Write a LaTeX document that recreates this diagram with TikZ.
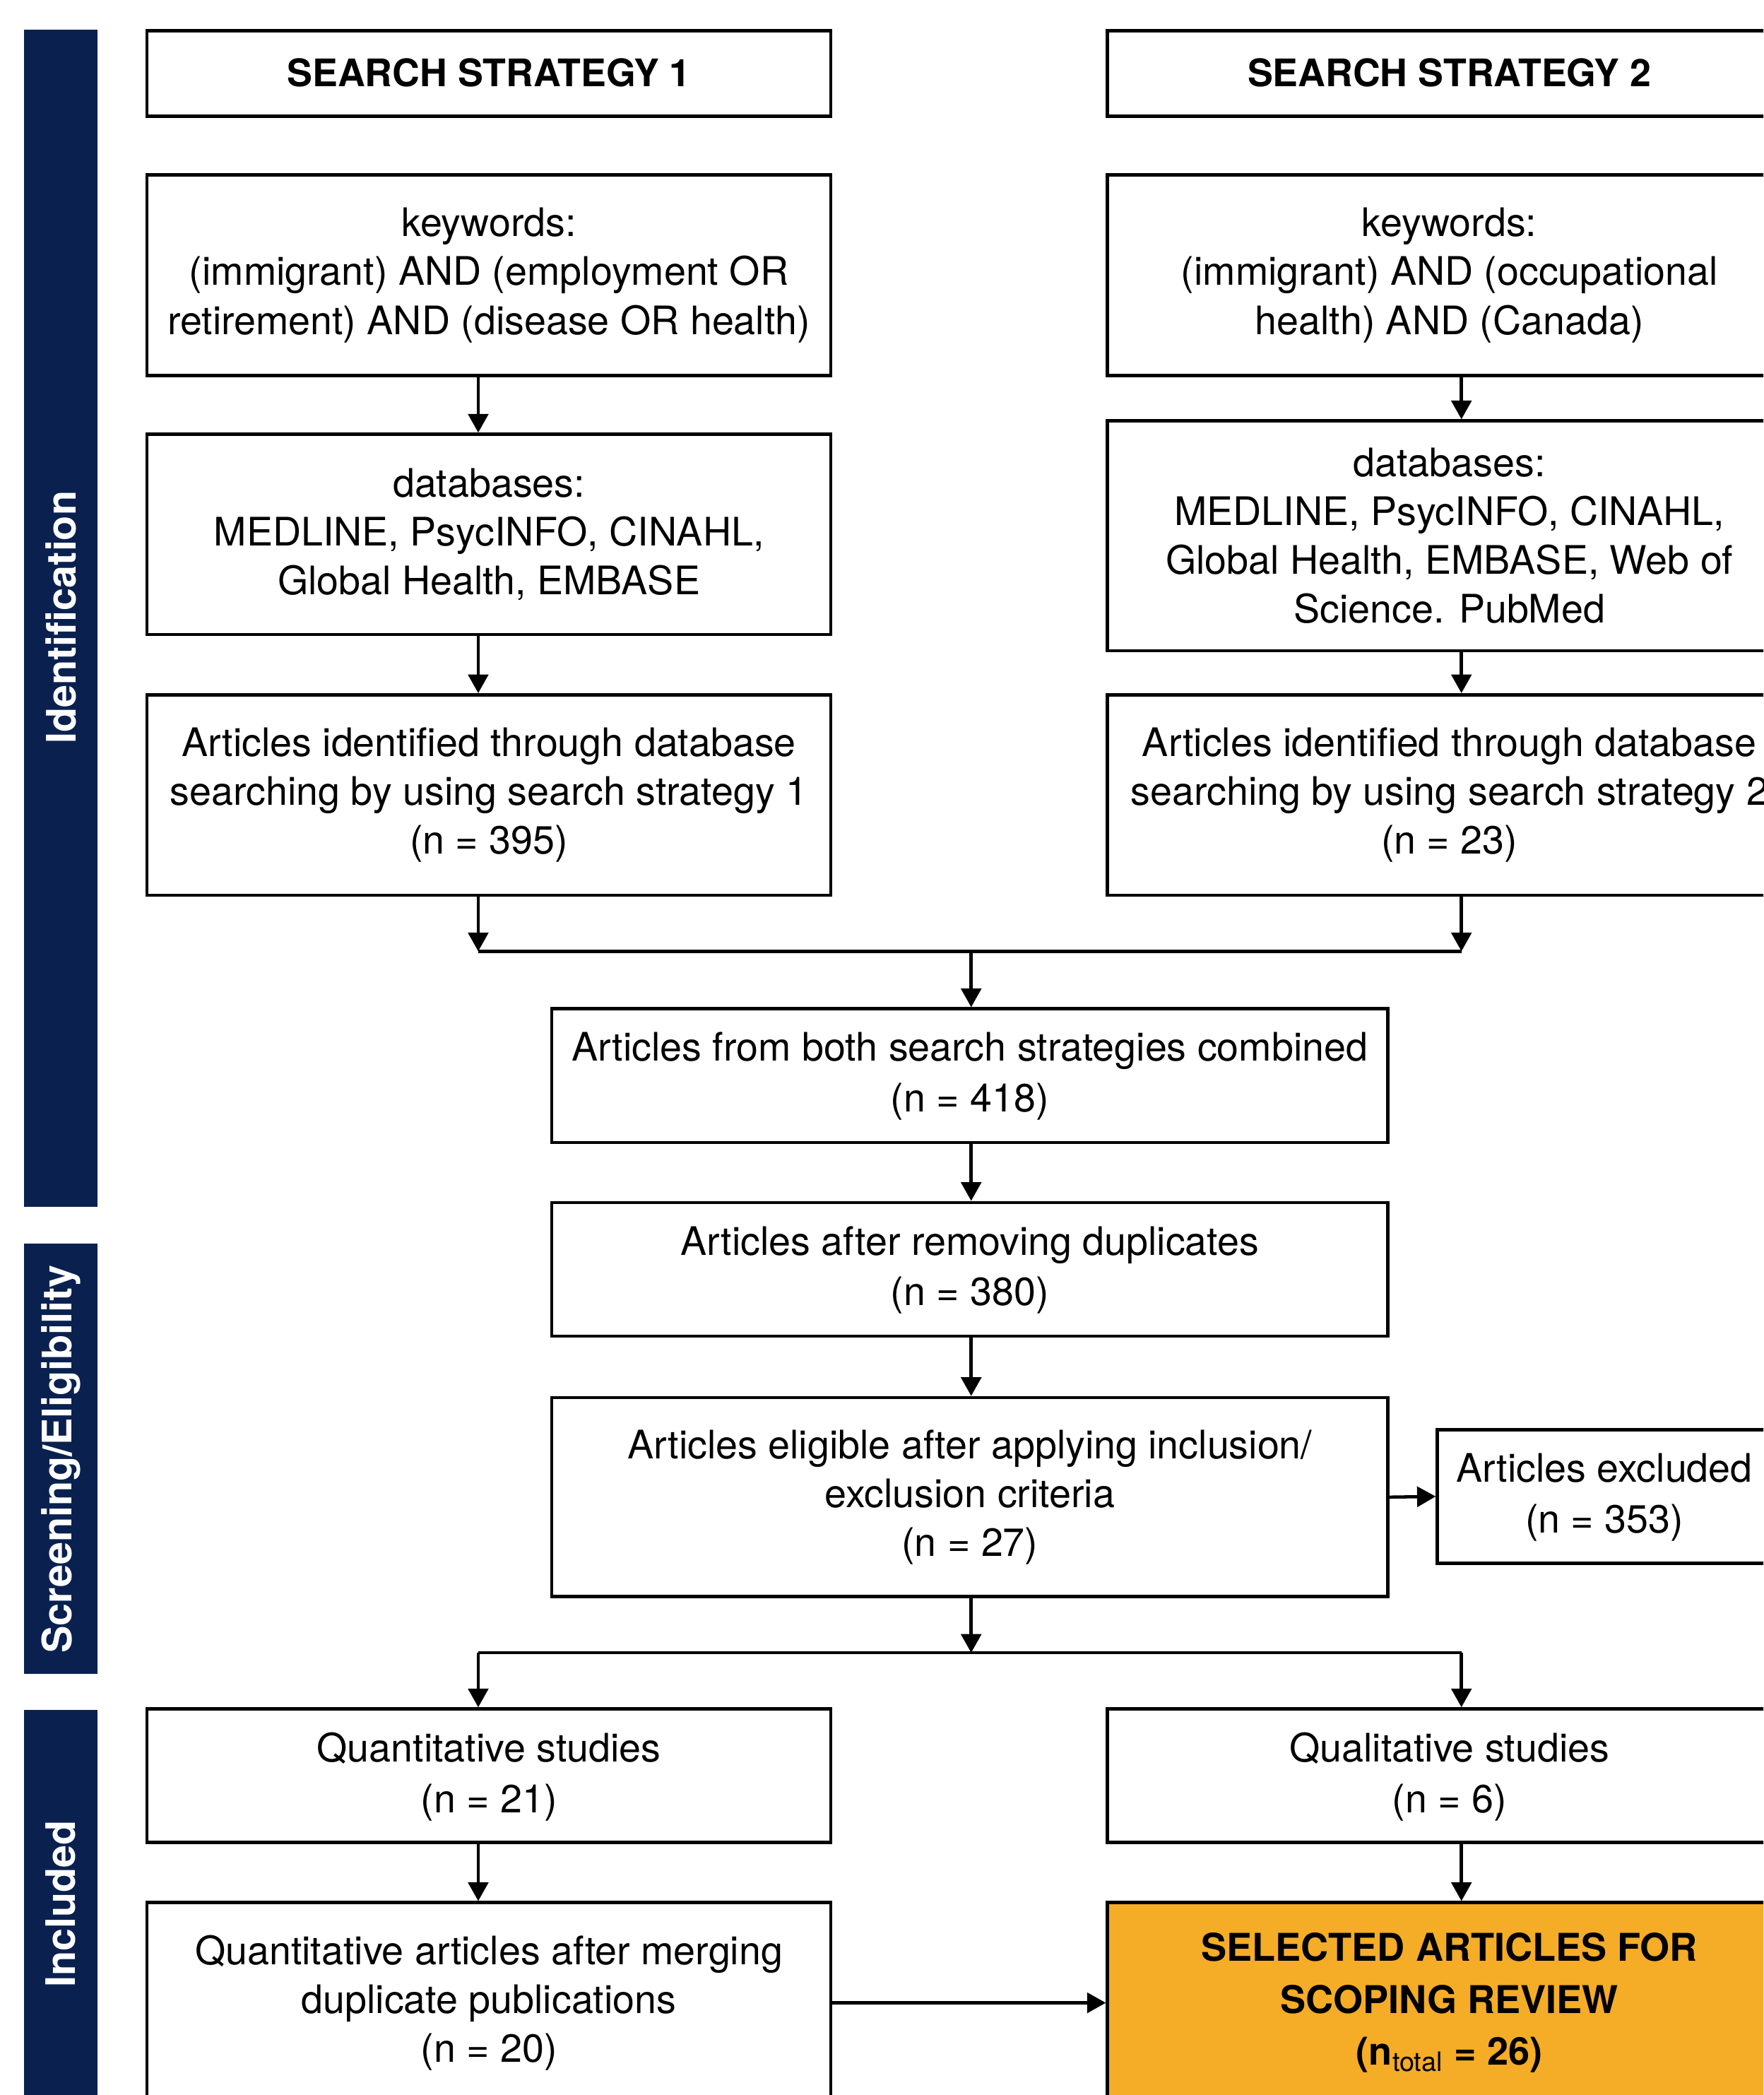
\documentclass[tikz,border=0pt]{standalone}
\usepackage{fontspec}
\setmainfont{TeX Gyre Heros}
\usetikzlibrary{arrows.meta}
\definecolor{navy}{RGB}{10,33,80}
\definecolor{amber}{RGB}{245,172,39}
\tikzstyle{box}=[draw, line width=1.2pt, rectangle, inner sep=0pt, align=center, fill=white, minimum width=256pt, font=\fontsize{14.7}{18.3}\selectfont]
\tikzstyle{pair}=[box, font=\fontsize{14.7}{19}\selectfont, text depth=2.5pt, minimum height=50pt]
\tikzstyle{head}=[box, minimum height=32pt, text depth=1pt, font=\fontsize{14.2}{18}\selectfont\bfseries]
\tikzstyle{mid}=[box, minimum width=313pt]
\tikzstyle{final}=[box, fill=amber, font=\fontsize{14.3}{19.5}\selectfont\bfseries]
\tikzstyle{phase}=[rotate=90, text=white, font=\fontsize{15.2}{18}\selectfont\bfseries]
\tikzstyle{arrow}=[line width=1.2pt, -{Triangle[length=7pt, width=7.5pt]}]
\tikzstyle{line}=[line width=1.2pt]

\begin{document}
\begin{tikzpicture}[x=0.5pt, y=-0.5pt]
    \useasboundingbox (0,0) rectangle (1320,1568);
    \clip (0,0) rectangle (1320,1568);
% Phase bars
    \fill[navy] (18,22) rectangle (73,903);
    \fill[navy] (18,931) rectangle (73,1253);
    \fill[navy] (18,1280) rectangle (73,1590);
    \node[phase] (phId) at (45.5,462) {Identification};
    \node[phase] (phScr) at (45.5,1092) {Screening/Eligibility};
    \node[phase] (phInc) at (45.5,1425) {Included};
% Columns and junctions
    \coordinate (colL) at (358,0);
    \coordinate (colR) at (1094,0);
    \coordinate (colC) at (727,0);
    \coordinate (joinA) at (727,712);
    \coordinate (joinB) at (727,1237);
% Search strategy 1
    \node[head] (ss1) at (366,55) {SEARCH STRATEGY 1};
    \node[box, minimum height=75pt] (kw1) at (366,206) {keywords:\\(immigrant) AND (employment OR\\retirement) AND (disease OR health)};
    \node[box, minimum height=75pt] (db1) at (366,400) {databases:\\MEDLINE, PsycINFO, CINAHL,\\Global Health, EMBASE};
    \node[box, minimum height=75pt] (id1) at (366,595) {Articles identified through database\\searching by using search strategy 1\\(n = 395)};
% Search strategy 2
    \node[head] (ss2) at (1085,55) {SEARCH STRATEGY 2};
    \node[box, minimum height=75pt] (kw2) at (1085,206) {keywords:\\(immigrant) AND (occupational\\health) AND (Canada)};
    \node[box, minimum height=86pt] (db2) at (1085,401) {databases:\\MEDLINE, PsycINFO, CINAHL,\\Global Health, EMBASE, Web of\\Science. PubMed};
    \node[box, minimum height=75pt] (id2) at (1085,595) {Articles identified through database\\searching by using search strategy 2\\(n = 23)};
% Screening
    \node[pair, minimum width=313pt] (comb) at (726,805) {Articles from both search strategies combined\\(n = 418)};
    \node[pair, minimum width=313pt] (dup) at (726,950) {Articles after removing duplicates\\(n = 380)};
    \node[mid, minimum height=74.5pt] (elig) at (726,1120.5) {Articles eligible after applying inclusion/\\exclusion criteria\\(n = 27)};
    \node[pair, minimum width=125pt] (excl) at (1201,1120) {Articles excluded\\(n = 353)};
% Included
    \node[pair] (quan) at (366,1329) {Quantitative studies\\(n = 21)};
    \node[pair] (qual) at (1085,1329) {Qualitative studies\\(n = 6)};
    \node[box, minimum height=75pt] (merg) at (366,1499) {Quantitative articles after merging\\duplicate publications\\(n = 20)};
    \node[final, minimum height=75pt] (sel) at (1085,1499) {SELECTED ARTICLES FOR\\SCOPING REVIEW\\(n\textsubscript{\normalfont\fontsize{10}{10}\selectfont total} = 26)};
% Connectors
    \draw[arrow] (kw1.south -| colL) -- (db1.north -| colL);
    \draw[arrow] (db1.south -| colL) -- (id1.north -| colL);
    \draw[arrow] (kw2.south -| colR) -- (db2.north -| colR);
    \draw[arrow] (db2.south -| colR) -- (id2.north -| colR);
    \draw[arrow] (id1.south -| colL) -- (joinA -| colL);
    \draw[arrow] (id2.south -| colR) -- (joinA -| colR);
    \draw[line] (joinA -| colL) -- (joinA -| colR);
    \draw[arrow] (joinA) -- (comb.north -| joinA);
    \draw[arrow] (comb.south -| colC) -- (dup.north -| colC);
    \draw[arrow] (dup.south -| colC) -- (elig.north -| colC);
    \draw[arrow] (elig.east) -- (excl.west);
    \draw[arrow] (elig.south -| colC) -- (joinB);
    \draw[line] (joinB -| colL) -- (joinB -| colR);
    \draw[arrow] (joinB -| colL) -- (quan.north -| colL);
    \draw[arrow] (joinB -| colR) -- (qual.north -| colR);
    \draw[arrow] (quan.south -| colL) -- (merg.north -| colL);
    \draw[arrow] (qual.south -| colR) -- (sel.north -| colR);
    \draw[arrow] (merg.east) -- (sel.west);
\end{tikzpicture}
\end{document}
